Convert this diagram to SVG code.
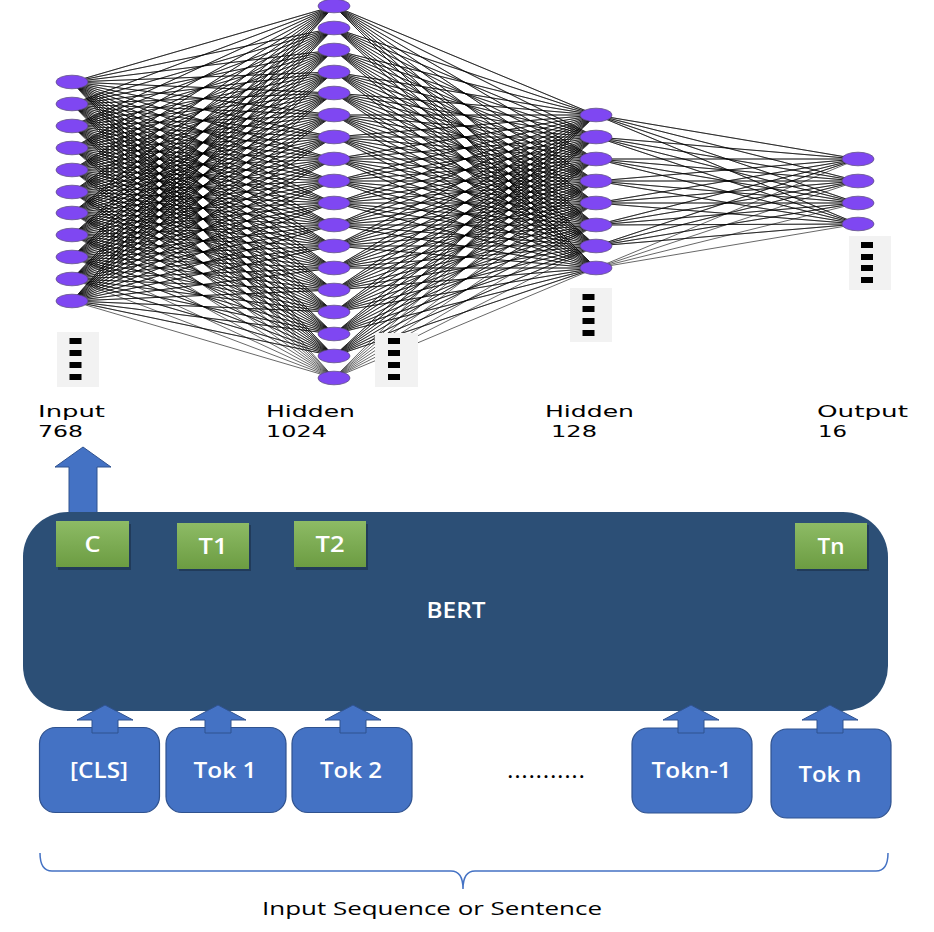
<svg xmlns="http://www.w3.org/2000/svg" width="934" height="932" viewBox="0 0 934 932">
<style>
.conn{fill:none;stroke:#000;stroke-width:0.6;stroke-linejoin:round}
.n{fill:#7f47f2;stroke:#5f4e86;stroke-width:0.8}
.dbox{fill:#f2f2f2}
.dash{fill:#000}
.lbl{font-family:"DejaVu Sans",Verdana,sans-serif;font-size:15px;fill:#000}
.w{font-family:"Open Sans","Liberation Sans",sans-serif;fill:#fff;text-anchor:middle;font-weight:600}
.tok{fill:#4472c4;stroke:#2f528f;stroke-width:1.2}
.arr{fill:#4472c4;stroke:#2f528f;stroke-width:1}
.gbox{fill:url(#g)}
.sh{fill:#1a2f47;opacity:0.6}
</style>
<defs>
<linearGradient id="g" x1="0" y1="0" x2="0" y2="1">
<stop offset="0" stop-color="#8dbb65"/>
<stop offset="1" stop-color="#6c9c42"/>
</linearGradient>
</defs>
<rect width="934" height="932" fill="#fff"/>
<g id="connectors">
<path class="conn" d="M72 82 334 6 72 82 334 28 72 82 334 50 72 82 334 72 72 82 334 93 72 82 334 115 72 82 334 137 72 82 334 159 72 82 334 181 72 82 334 203 72 82 334 225 72 82 334 246 72 82 334 268 72 82 334 290 72 82 334 312 72 82 334 334 72 82 334 356 72 82 334 378
M72 104 334 6 72 104 334 28 72 104 334 50 72 104 334 72 72 104 334 93 72 104 334 115 72 104 334 137 72 104 334 159 72 104 334 181 72 104 334 203 72 104 334 225 72 104 334 246 72 104 334 268 72 104 334 290 72 104 334 312 72 104 334 334 72 104 334 356 72 104 334 378
M72 126 334 6 72 126 334 28 72 126 334 50 72 126 334 72 72 126 334 93 72 126 334 115 72 126 334 137 72 126 334 159 72 126 334 181 72 126 334 203 72 126 334 225 72 126 334 246 72 126 334 268 72 126 334 290 72 126 334 312 72 126 334 334 72 126 334 356 72 126 334 378
M72 148 334 6 72 148 334 28 72 148 334 50 72 148 334 72 72 148 334 93 72 148 334 115 72 148 334 137 72 148 334 159 72 148 334 181 72 148 334 203 72 148 334 225 72 148 334 246 72 148 334 268 72 148 334 290 72 148 334 312 72 148 334 334 72 148 334 356 72 148 334 378
M72 170 334 6 72 170 334 28 72 170 334 50 72 170 334 72 72 170 334 93 72 170 334 115 72 170 334 137 72 170 334 159 72 170 334 181 72 170 334 203 72 170 334 225 72 170 334 246 72 170 334 268 72 170 334 290 72 170 334 312 72 170 334 334 72 170 334 356 72 170 334 378
M72 192 334 6 72 192 334 28 72 192 334 50 72 192 334 72 72 192 334 93 72 192 334 115 72 192 334 137 72 192 334 159 72 192 334 181 72 192 334 203 72 192 334 225 72 192 334 246 72 192 334 268 72 192 334 290 72 192 334 312 72 192 334 334 72 192 334 356 72 192 334 378
M72 213 334 6 72 213 334 28 72 213 334 50 72 213 334 72 72 213 334 93 72 213 334 115 72 213 334 137 72 213 334 159 72 213 334 181 72 213 334 203 72 213 334 225 72 213 334 246 72 213 334 268 72 213 334 290 72 213 334 312 72 213 334 334 72 213 334 356 72 213 334 378
M72 235 334 6 72 235 334 28 72 235 334 50 72 235 334 72 72 235 334 93 72 235 334 115 72 235 334 137 72 235 334 159 72 235 334 181 72 235 334 203 72 235 334 225 72 235 334 246 72 235 334 268 72 235 334 290 72 235 334 312 72 235 334 334 72 235 334 356 72 235 334 378
M72 257 334 6 72 257 334 28 72 257 334 50 72 257 334 72 72 257 334 93 72 257 334 115 72 257 334 137 72 257 334 159 72 257 334 181 72 257 334 203 72 257 334 225 72 257 334 246 72 257 334 268 72 257 334 290 72 257 334 312 72 257 334 334 72 257 334 356 72 257 334 378
M72 279 334 6 72 279 334 28 72 279 334 50 72 279 334 72 72 279 334 93 72 279 334 115 72 279 334 137 72 279 334 159 72 279 334 181 72 279 334 203 72 279 334 225 72 279 334 246 72 279 334 268 72 279 334 290 72 279 334 312 72 279 334 334 72 279 334 356 72 279 334 378
M72 301 334 6 72 301 334 28 72 301 334 50 72 301 334 72 72 301 334 93 72 301 334 115 72 301 334 137 72 301 334 159 72 301 334 181 72 301 334 203 72 301 334 225 72 301 334 246 72 301 334 268 72 301 334 290 72 301 334 312 72 301 334 334 72 301 334 356 72 301 334 378"/>
<path class="conn" d="M596 115 334 6 596 115 334 28 596 115 334 50 596 115 334 72 596 115 334 93 596 115 334 115 596 115 334 137 596 115 334 159 596 115 334 181 596 115 334 203 596 115 334 225 596 115 334 246 596 115 334 268 596 115 334 290 596 115 334 312 596 115 334 334 596 115 334 356 596 115 334 378
M596 137 334 6 596 137 334 28 596 137 334 50 596 137 334 72 596 137 334 93 596 137 334 115 596 137 334 137 596 137 334 159 596 137 334 181 596 137 334 203 596 137 334 225 596 137 334 246 596 137 334 268 596 137 334 290 596 137 334 312 596 137 334 334 596 137 334 356 596 137 334 378
M596 159 334 6 596 159 334 28 596 159 334 50 596 159 334 72 596 159 334 93 596 159 334 115 596 159 334 137 596 159 334 159 596 159 334 181 596 159 334 203 596 159 334 225 596 159 334 246 596 159 334 268 596 159 334 290 596 159 334 312 596 159 334 334 596 159 334 356 596 159 334 378
M596 181 334 6 596 181 334 28 596 181 334 50 596 181 334 72 596 181 334 93 596 181 334 115 596 181 334 137 596 181 334 159 596 181 334 181 596 181 334 203 596 181 334 225 596 181 334 246 596 181 334 268 596 181 334 290 596 181 334 312 596 181 334 334 596 181 334 356 596 181 334 378
M596 203 334 6 596 203 334 28 596 203 334 50 596 203 334 72 596 203 334 93 596 203 334 115 596 203 334 137 596 203 334 159 596 203 334 181 596 203 334 203 596 203 334 225 596 203 334 246 596 203 334 268 596 203 334 290 596 203 334 312 596 203 334 334 596 203 334 356 596 203 334 378
M596 225 334 6 596 225 334 28 596 225 334 50 596 225 334 72 596 225 334 93 596 225 334 115 596 225 334 137 596 225 334 159 596 225 334 181 596 225 334 203 596 225 334 225 596 225 334 246 596 225 334 268 596 225 334 290 596 225 334 312 596 225 334 334 596 225 334 356 596 225 334 378
M596 246 334 6 596 246 334 28 596 246 334 50 596 246 334 72 596 246 334 93 596 246 334 115 596 246 334 137 596 246 334 159 596 246 334 181 596 246 334 203 596 246 334 225 596 246 334 246 596 246 334 268 596 246 334 290 596 246 334 312 596 246 334 334 596 246 334 356 596 246 334 378
M596 268 334 6 596 268 334 28 596 268 334 50 596 268 334 72 596 268 334 93 596 268 334 115 596 268 334 137 596 268 334 159 596 268 334 181 596 268 334 203 596 268 334 225 596 268 334 246 596 268 334 268 596 268 334 290 596 268 334 312 596 268 334 334 596 268 334 356 596 268 334 378"/>
<path class="conn" d="M858 159 596 115 858 159 596 137 858 159 596 159 858 159 596 181 858 159 596 203 858 159 596 225 858 159 596 246 858 159 596 268
M858 181 596 115 858 181 596 137 858 181 596 159 858 181 596 181 858 181 596 203 858 181 596 225 858 181 596 246 858 181 596 268
M858 203 596 115 858 203 596 137 858 203 596 159 858 203 596 181 858 203 596 203 858 203 596 225 858 203 596 246 858 203 596 268
M858 224 596 115 858 224 596 137 858 224 596 159 858 224 596 181 858 224 596 203 858 224 596 225 858 224 596 246 858 224 596 268"/>
</g>
<g id="layer-input">
<ellipse class="n" cx="72" cy="82" rx="16" ry="6.8"/><ellipse class="n" cx="72" cy="104" rx="16" ry="6.8"/><ellipse class="n" cx="72" cy="126" rx="16" ry="6.8"/><ellipse class="n" cx="72" cy="148" rx="16" ry="6.8"/><ellipse class="n" cx="72" cy="170" rx="16" ry="6.8"/><ellipse class="n" cx="72" cy="192" rx="16" ry="6.8"/><ellipse class="n" cx="72" cy="213" rx="16" ry="6.8"/><ellipse class="n" cx="72" cy="235" rx="16" ry="6.8"/><ellipse class="n" cx="72" cy="257" rx="16" ry="6.8"/><ellipse class="n" cx="72" cy="279" rx="16" ry="6.8"/><ellipse class="n" cx="72" cy="301" rx="16" ry="6.8"/>
<rect class="dbox" x="57" y="332" width="42" height="55"/>
<rect class="dash" x="69.5" y="338" width="12" height="6"/><rect class="dash" x="69.5" y="350" width="12" height="6"/><rect class="dash" x="69.5" y="362" width="12" height="6"/><rect class="dash" x="69.5" y="374" width="12" height="6"/>
<text class="lbl" x="38" y="417" textLength="67" lengthAdjust="spacingAndGlyphs">Input</text>
<text class="lbl" x="38" y="437" textLength="45" lengthAdjust="spacingAndGlyphs">768</text>
</g>
<g id="layer-hidden1">
<ellipse class="n" cx="334" cy="6" rx="16" ry="6.8"/><ellipse class="n" cx="334" cy="28" rx="16" ry="6.8"/><ellipse class="n" cx="334" cy="50" rx="16" ry="6.8"/><ellipse class="n" cx="334" cy="72" rx="16" ry="6.8"/><ellipse class="n" cx="334" cy="93" rx="16" ry="6.8"/><ellipse class="n" cx="334" cy="115" rx="16" ry="6.8"/><ellipse class="n" cx="334" cy="137" rx="16" ry="6.8"/><ellipse class="n" cx="334" cy="159" rx="16" ry="6.8"/><ellipse class="n" cx="334" cy="181" rx="16" ry="6.8"/><ellipse class="n" cx="334" cy="203" rx="16" ry="6.8"/><ellipse class="n" cx="334" cy="225" rx="16" ry="6.8"/><ellipse class="n" cx="334" cy="246" rx="16" ry="6.8"/><ellipse class="n" cx="334" cy="268" rx="16" ry="6.8"/><ellipse class="n" cx="334" cy="290" rx="16" ry="6.8"/><ellipse class="n" cx="334" cy="312" rx="16" ry="6.8"/><ellipse class="n" cx="334" cy="334" rx="16" ry="6.8"/><ellipse class="n" cx="334" cy="356" rx="16" ry="6.8"/><ellipse class="n" cx="334" cy="378" rx="16" ry="6.8"/>
<rect class="dbox" x="375" y="333" width="43" height="54"/>
<rect class="dash" x="388" y="338" width="12" height="6"/><rect class="dash" x="388" y="350" width="12" height="6"/><rect class="dash" x="388" y="362" width="12" height="6"/><rect class="dash" x="388" y="374" width="12" height="6"/>
<text class="lbl" x="266" y="417" textLength="89" lengthAdjust="spacingAndGlyphs">Hidden</text>
<text class="lbl" x="266" y="437" textLength="61" lengthAdjust="spacingAndGlyphs">1024</text>
</g>
<g id="layer-hidden2">
<ellipse class="n" cx="596" cy="115" rx="16" ry="6.8"/><ellipse class="n" cx="596" cy="137" rx="16" ry="6.8"/><ellipse class="n" cx="596" cy="159" rx="16" ry="6.8"/><ellipse class="n" cx="596" cy="181" rx="16" ry="6.8"/><ellipse class="n" cx="596" cy="203" rx="16" ry="6.8"/><ellipse class="n" cx="596" cy="225" rx="16" ry="6.8"/><ellipse class="n" cx="596" cy="246" rx="16" ry="6.8"/><ellipse class="n" cx="596" cy="268" rx="16" ry="6.8"/>
<rect class="dbox" x="570" y="288" width="42" height="54"/>
<rect class="dash" x="582.5" y="294" width="12" height="6"/><rect class="dash" x="582.5" y="306" width="12" height="6"/><rect class="dash" x="582.5" y="318" width="12" height="6"/><rect class="dash" x="582.5" y="330" width="12" height="6"/>
<text class="lbl" x="545" y="417" textLength="89" lengthAdjust="spacingAndGlyphs">Hidden</text>
<text class="lbl" x="551" y="437" textLength="46" lengthAdjust="spacingAndGlyphs">128</text>
</g>
<g id="layer-output">
<ellipse class="n" cx="858" cy="159" rx="16" ry="6.8"/><ellipse class="n" cx="858" cy="181" rx="16" ry="6.8"/><ellipse class="n" cx="858" cy="203" rx="16" ry="6.8"/><ellipse class="n" cx="858" cy="224" rx="16" ry="6.8"/>
<rect class="dbox" x="849" y="236" width="42" height="54"/>
<rect class="dash" x="861" y="242" width="12" height="6"/><rect class="dash" x="861" y="254" width="12" height="6"/><rect class="dash" x="861" y="265" width="12" height="6"/><rect class="dash" x="861" y="277" width="12" height="6"/>
<text class="lbl" x="817" y="417" textLength="91" lengthAdjust="spacingAndGlyphs">Output</text>
<text class="lbl" x="818" y="437" textLength="29" lengthAdjust="spacingAndGlyphs">16</text>
</g>
<g id="arrow-cls-out">
<polygon class="arr" points="83,447 111,467 97,467 97,514 69,514 69,467 55,467"/>
</g>
<g id="bert">
<rect x="23" y="512" width="865" height="199" rx="45" ry="45" fill="#2c4f76"/>
<text class="w" x="456" y="618" font-size="21" textLength="59" lengthAdjust="spacingAndGlyphs">BERT</text>
</g>
<g id="out-C">
<rect class="sh" x="58" y="524" width="73" height="46"/>
<rect class="gbox" x="56" y="521" width="73" height="46"/>
<text class="w" x="92.5" y="552" font-size="21" textLength="16" lengthAdjust="spacingAndGlyphs">C</text>
</g>
<g id="out-T1">
<rect class="sh" x="179" y="525" width="72" height="46"/>
<rect class="gbox" x="177" y="523" width="72" height="46"/>
<text class="w" x="213" y="554" font-size="21" textLength="29" lengthAdjust="spacingAndGlyphs">T1</text>
</g>
<g id="out-T2">
<rect class="sh" x="296" y="524" width="72" height="46"/>
<rect class="gbox" x="294" y="521" width="72" height="46"/>
<text class="w" x="330" y="552" font-size="21" textLength="29" lengthAdjust="spacingAndGlyphs">T2</text>
</g>
<g id="out-Tn">
<rect class="sh" x="797" y="525" width="72" height="46"/>
<rect class="gbox" x="795" y="523" width="72" height="46"/>
<text class="w" x="831" y="554" font-size="21" textLength="27" lengthAdjust="spacingAndGlyphs">Tn</text>
</g>
<g id="tok-cls">
<rect class="tok" x="39.5" y="727.5" width="120" height="85" rx="16" ry="16"/>
<polygon class="arr" points="105,705 133,720 118,720 118,733 92,733 92,720 77,720"/>
<text class="w" x="99" y="778" font-size="21" textLength="58" lengthAdjust="spacingAndGlyphs">[CLS]</text>
</g>
<g id="tok-1">
<rect class="tok" x="166" y="727.5" width="120" height="85" rx="16" ry="16"/>
<polygon class="arr" points="218,705 246,720 231,720 231,733 205,733 205,720 190,720"/>
<text class="w" x="225" y="778" font-size="21" textLength="63" lengthAdjust="spacingAndGlyphs">Tok 1</text>
</g>
<g id="tok-2">
<rect class="tok" x="292" y="727.5" width="120" height="85" rx="16" ry="16"/>
<polygon class="arr" points="353,705 381,720 366,720 366,733 340,733 340,720 325,720"/>
<text class="w" x="351" y="778" font-size="21" textLength="62" lengthAdjust="spacingAndGlyphs">Tok 2</text>
</g>
<text x="546" y="778" font-family="Open Sans, Liberation Sans, sans-serif" font-size="20" font-weight="600" text-anchor="middle" textLength="77" lengthAdjust="spacing" fill="#000">...........</text>
<g id="tok-n1">
<rect class="tok" x="632" y="728" width="120" height="85" rx="16" ry="16"/>
<polygon class="arr" points="691,705 719,720 704,720 704,733 678,733 678,720 663,720"/>
<text class="w" x="691.5" y="778" font-size="21" textLength="80" lengthAdjust="spacingAndGlyphs">Tokn-1</text>
</g>
<g id="tok-n">
<rect class="tok" x="771" y="729" width="120" height="89" rx="16" ry="16"/>
<polygon class="arr" points="830,705 858,720 843,720 843,733 817,733 817,720 802,720"/>
<text class="w" x="830" y="782" font-size="21" textLength="63" lengthAdjust="spacingAndGlyphs">Tok n</text>
</g>
<g id="brace">
<path d="M40 853 Q40 871 52 871 L451 871 Q463 871 463 889 Q463 871 475 871 L876 871 Q888 871 888 853" fill="none" stroke="#4472c4" stroke-width="1.5"/>
<text x="262" y="915" font-family="Open Sans, Liberation Sans, sans-serif" font-size="19" textLength="340" lengthAdjust="spacingAndGlyphs" fill="#000">Input Sequence or Sentence</text>
</g>
</svg>
